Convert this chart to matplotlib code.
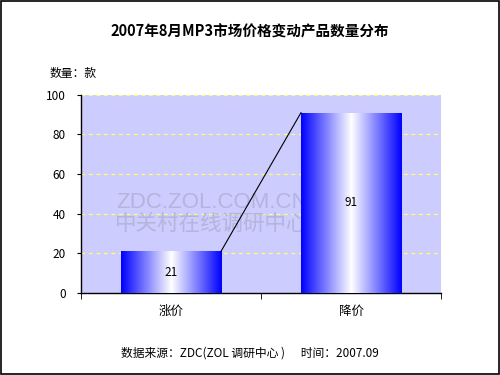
import numpy as np
import matplotlib.pyplot as plt
from matplotlib.patches import Rectangle
from matplotlib.colors import LinearSegmentedColormap

plt.rcParams['font.family'] = ['Noto Sans CJK SC', 'DejaVu Sans']

categories = ['涨价', '降价']
values = [21, 91]
yticks = [0, 20, 40, 60, 80, 100]

fig = plt.figure(figsize=(5, 3.75), dpi=100)
fig.patches.append(Rectangle((0.002, 0.003), 0.995, 0.994, transform=fig.transFigure,
                             fill=False, edgecolor='black', linewidth=1.2))
ax = fig.add_axes([0.162, 0.219, 0.72, 0.528])
ax.set_facecolor('#ccccff')

x = np.arange(len(categories))
width = 0.556
cmap = LinearSegmentedColormap.from_list('g', ['#0000ff', '#8080ff', '#ffffff', '#8080ff', '#0000ff'])
grad = np.linspace(0, 1, 256).reshape(1, -1)

bars = ax.bar(x, values, width=width, color='none', edgecolor='none', zorder=3)
for b, v in zip(bars, values):
    x0 = b.get_x()
    im = ax.imshow(grad, cmap=cmap, aspect='auto', extent=[x0, x0 + width, 0, v], zorder=3)
    im.set_clip_path(b)
    ax.text(b.get_x() + width / 2, v / 2, str(v), ha='center', va='center', fontsize=8.5, zorder=5)

# connector line between bar tops
ax.plot([x[0] + width / 2, x[1] - width / 2], [values[0], values[1]], color='black', lw=0.8, zorder=4)

ax.set_xlim(-0.5, 1.5)
ax.set_ylim(0, 100)
ax.set_yticks(yticks)
ax.set_yticklabels([str(t) for t in yticks], fontsize=8.5)
ax.set_xticks(x)
ax.set_xticklabels(categories, fontsize=9)
ax.tick_params(axis='x', length=0, pad=9)
ax.set_xticks([-0.5, 0.5, 1.5], minor=True)
ax.tick_params(axis='x', which='minor', length=4, direction='out')
ax.tick_params(axis='y', length=3, direction='out', pad=8)
for t in yticks[1:]:
    ax.axhline(t, color='#ffff66', lw=0.9, ls=(0, (3, 3)), zorder=1)
for s in ['top', 'right']:
    ax.spines[s].set_visible(False)
ax.spines['left'].set_linewidth(1)
ax.spines['bottom'].set_linewidth(1)

# watermark
ax.text(0.364, 0.455, 'ZDC.ZOL.COM.CN', transform=ax.transAxes, ha='center', va='center',
        fontsize=16, color='#b4b4dc', zorder=2, family=['Liberation Sans'])
ax.text(0.364, 0.35, '中关村在线调研中心', transform=ax.transAxes, ha='center', va='center',
        fontsize=15.5, color='#b4b4dc', zorder=2)

fig.text(0.5, 0.917, '2007年8月MP3市场价格变动产品数量分布', ha='center', va='center',
         fontsize=10.5, fontweight='bold')
fig.text(0.1, 0.805, '数量：款', ha='left', va='center', fontsize=8.5)
fig.text(0.5, 0.058, '数据来源：ZDC(ZOL 调研中心 )      时间：2007.09', ha='center', va='center',
         fontsize=8.5)

fig.savefig('out.png', dpi=100)
